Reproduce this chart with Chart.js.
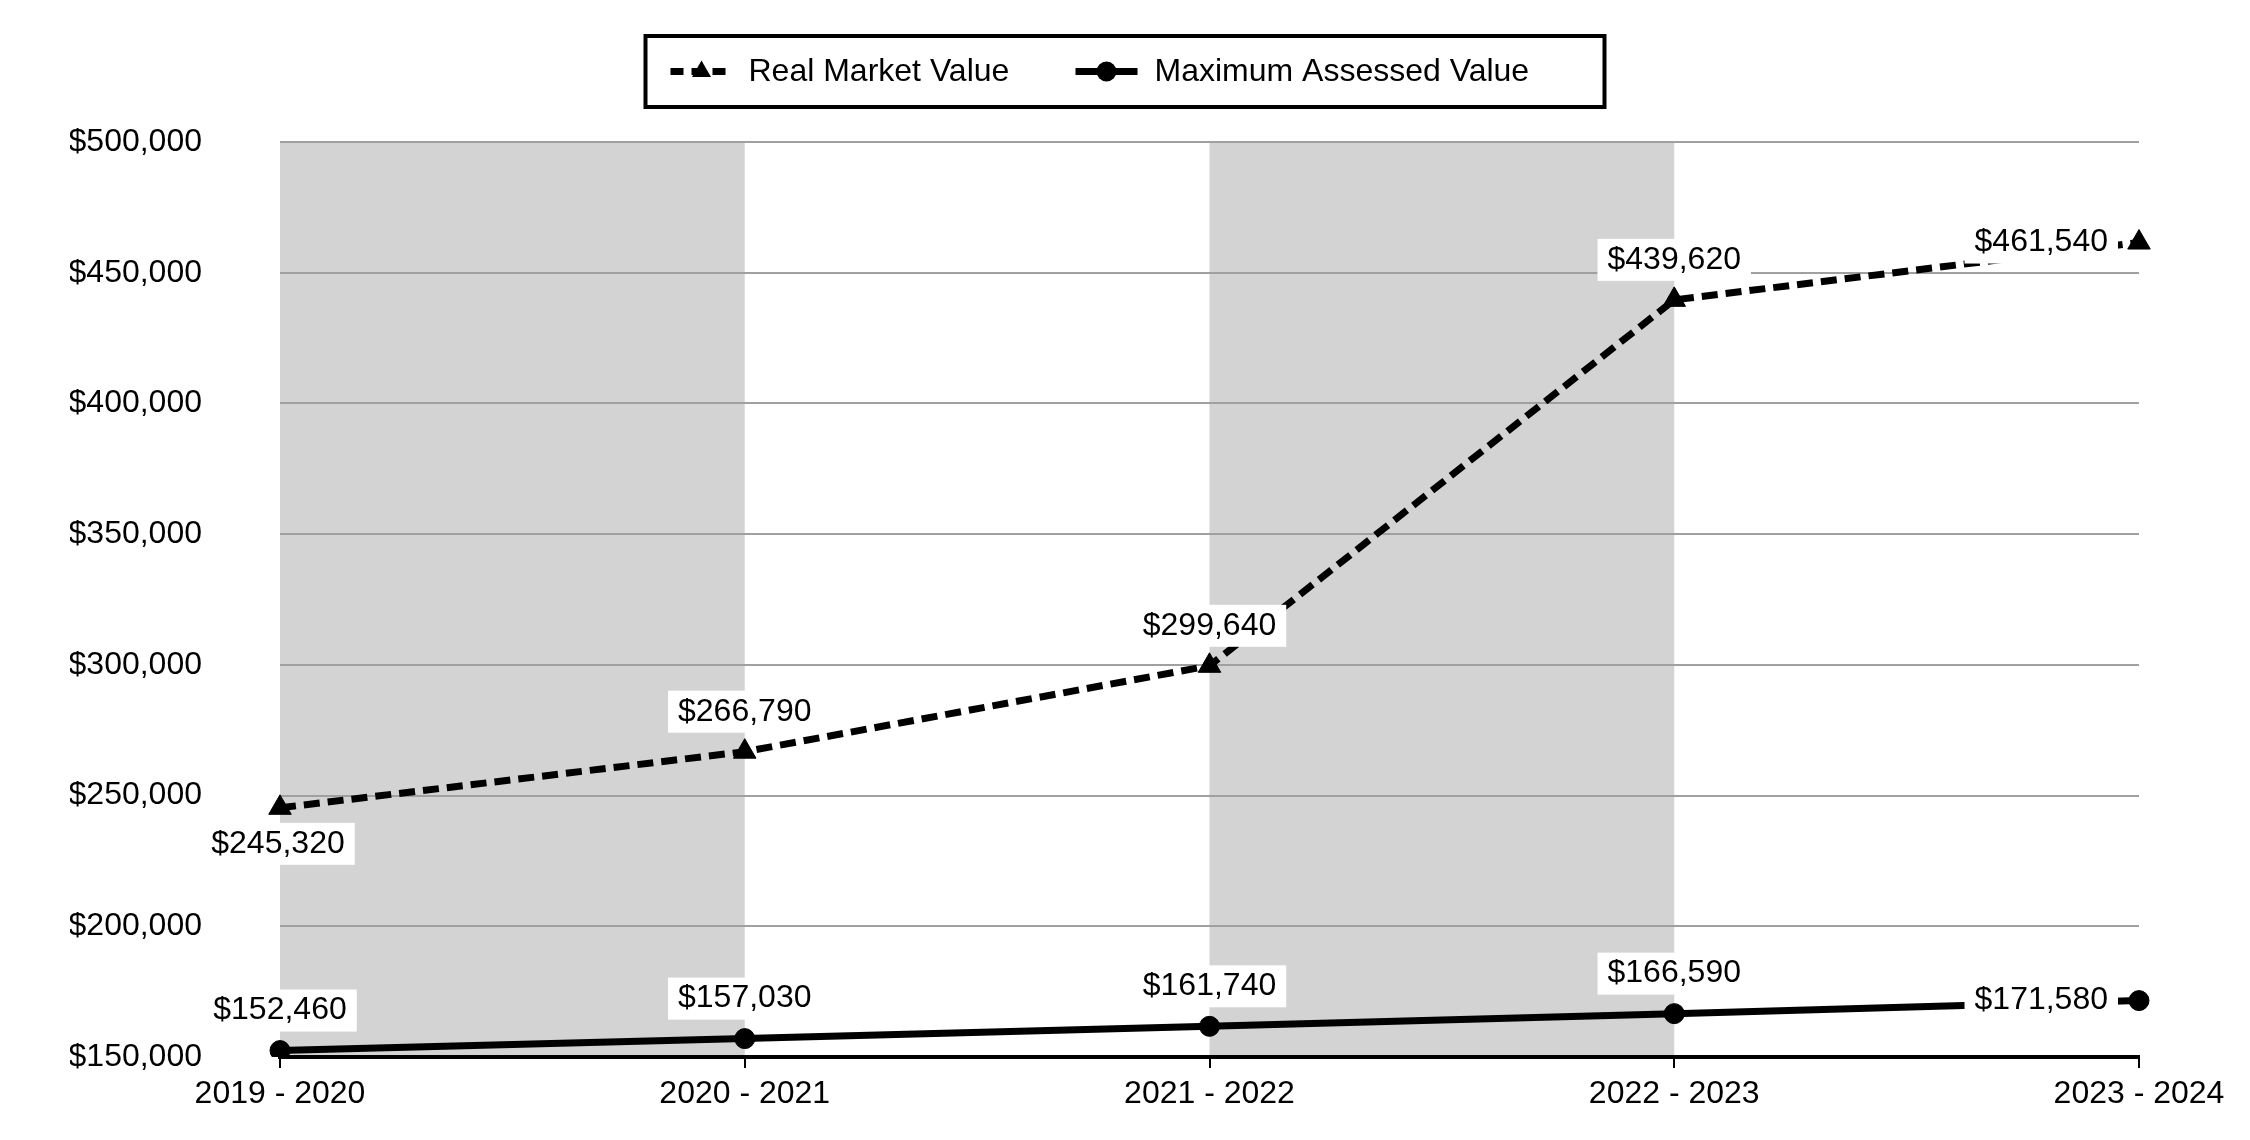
<!DOCTYPE html>
<html>
<head>
<meta charset="utf-8">
<script src="https://cdn.jsdelivr.net/npm/chart.js@4.4.1/dist/chart.umd.min.js"></script>
<style>
  html, body { margin: 0; padding: 0; background: #ffffff; }
  #wrap { width: 2250px; height: 1140px; position: relative; }
</style>
</head>
<body>
<div id="wrap"><canvas id="valueChart"></canvas></div>
<script>
// chart data
const seasons = ["2019 - 2020", "2020 - 2021", "2021 - 2022", "2022 - 2023", "2023 - 2024"];
const realMarketValue = [245320, 266790, 299640, 439620, 461540];
const maxAssessedValue = [152460, 157030, 161740, 166590, 171580];
const yMin = 150000;
const yMax = 500000;
const yStep = 50000;
// pairs of category indexes between which the background is shaded
const shadedBands = [[0, 1], [2, 3]];
const seriesNames = ["Real Market Value", "Maximum Assessed Value"];

// where each value label sits relative to its point
const rmvLabelSide = ["below", "above", "above", "above", "left"];
const mavLabelSide = ["above", "above", "above", "above", "left"];

const fontFamily = "'Liberation Sans', Arial, sans-serif";
const money = (v) => "$" + v.toLocaleString("en-US");

Chart.defaults.font.family = fontFamily;
Chart.defaults.color = "#000000";

// gray vertical bands behind the grid
const bandPlugin = {
  id: "bands",
  beforeDraw(chart) {
    const ctx = chart.ctx;
    const area = chart.chartArea;
    const x = chart.scales.x;
    ctx.save();
    ctx.fillStyle = "#d3d3d3";
    shadedBands.forEach(([a, b]) => {
      const x0 = x.getPixelForValue(a);
      const x1 = x.getPixelForValue(b);
      ctx.fillRect(x0, area.top, x1 - x0, area.bottom - area.top);
    });
    ctx.restore();
  },
};

// value labels on white boxes
const labelPlugin = {
  id: "valueLabels",
  afterDatasetsDraw(chart) {
    const ctx = chart.ctx;
    const sides = [rmvLabelSide, mavLabelSide];
    ctx.save();
    ctx.font = "32px " + fontFamily;
    ctx.textBaseline = "middle";
    chart.data.datasets.forEach((ds, di) => {
      const meta = chart.getDatasetMeta(di);
      meta.data.forEach((pt, i) => {
        const text = money(ds.data[i]);
        const w = ctx.measureText(text).width;
        let cx = pt.x;
        let cy = pt.y;
        const side = sides[di][i];
        if (side === "above") cy = pt.y - 40;
        else if (side === "below") { cy = pt.y + 36; cx = pt.x - 2; }
        else if (side === "left") cx = pt.x - 31 - w / 2;
        ctx.fillStyle = "#ffffff";
        ctx.fillRect(cx - w / 2 - 10, cy - 21, w + 20, 42);
        ctx.fillStyle = "#000000";
        ctx.textAlign = "center";
        ctx.fillText(text, cx, cy);
      });
    });
    ctx.restore();
  },
};

// boxed legend at the top
const legendPlugin = {
  id: "boxLegend",
  afterDraw(chart) {
    const ctx = chart.ctx;
    const boxW = 959, boxH = 71;
    const left = (chart.width - boxW) / 2;
    const top = 36;
    const mid = top + boxH / 2;
    ctx.save();
    ctx.fillStyle = "#ffffff";
    ctx.fillRect(left, top, boxW, boxH);
    ctx.lineWidth = 4;
    ctx.strokeStyle = "#000000";
    ctx.strokeRect(left, top, boxW, boxH);

    ctx.font = "32px " + fontFamily;
    ctx.textBaseline = "middle";
    ctx.textAlign = "left";
    ctx.fillStyle = "#000000";

    // item 1: dashed line with triangle
    let sx = left + 25;
    ctx.lineWidth = 7;
    ctx.setLineDash([13, 8]);
    ctx.beginPath();
    ctx.moveTo(sx, mid);
    ctx.lineTo(sx + 62, mid);
    ctx.stroke();
    ctx.setLineDash([]);
    const tx = sx + 31, r = 11;
    ctx.beginPath();
    ctx.moveTo(tx, mid - r);
    ctx.lineTo(tx + r * 0.866, mid + r * 0.5);
    ctx.lineTo(tx - r * 0.866, mid + r * 0.5);
    ctx.closePath();
    ctx.fill();
    ctx.fillText(seriesNames[0], sx + 78, mid + 1);

    // item 2: solid line with circle
    sx = left + 430;
    ctx.beginPath();
    ctx.moveTo(sx, mid);
    ctx.lineTo(sx + 62, mid);
    ctx.stroke();
    ctx.beginPath();
    ctx.arc(sx + 31, mid, 10, 0, Math.PI * 2);
    ctx.fill();
    ctx.fillText(seriesNames[1], sx + 79, mid + 1);
    ctx.restore();
  },
};

const ctx = document.getElementById("valueChart").getContext("2d");

new Chart(ctx, {
  type: "line",
  data: {
    labels: seasons,
    datasets: [
      {
        label: seriesNames[0],
        data: realMarketValue,
        borderColor: "#000000",
        backgroundColor: "#000000",
        borderWidth: 7,
        borderDash: [16, 8],
        pointStyle: "triangle",
        pointRadius: 13,
        pointBorderWidth: 1,
        tension: 0,
      },
      {
        label: seriesNames[1],
        data: maxAssessedValue,
        borderColor: "#000000",
        backgroundColor: "#000000",
        borderWidth: 7,
        pointStyle: "circle",
        pointRadius: 10,
        pointBorderWidth: 1,
        tension: 0,
      },
    ],
  },
  options: {
    responsive: true,
    maintainAspectRatio: false,
    devicePixelRatio: 1,
    animation: false,
    layout: {
      padding: { top: 142, right: 111, bottom: 26, left: 70 },
    },
    plugins: {
      legend: { display: false },
      tooltip: { enabled: false },
    },
    scales: {
      x: {
        offset: false,
        afterFit: (s) => { s.height = 57; },
        grid: {
          display: true,
          drawOnChartArea: false,
          drawTicks: true,
          tickLength: 11,
          color: "#000000",
          lineWidth: 2,
        },
        border: { display: true, color: "#000000", width: 4 },
        ticks: {
          font: { size: 32 },
          color: "#000000",
          padding: 7,
          maxRotation: 0,
          autoSkip: false,
        },
      },
      y: {
        min: yMin,
        max: yMax,
        // big tick padding would otherwise also push the plot up from the bottom
        afterFit: (s) => { s.width = 210; s.paddingTop = 0; s.paddingBottom = 0; },
        grid: {
          drawTicks: false,
          lineWidth: 2,
          color: (c) => (c.tick && c.tick.value === yMin ? "rgba(0,0,0,0)" : "#a0a0a0"),
        },
        border: { display: false },
        ticks: {
          stepSize: yStep,
          font: { size: 32 },
          color: "#000000",
          padding: 78,
          callback: (v) => money(v),
        },
      },
    },
  },
  plugins: [bandPlugin, labelPlugin, legendPlugin],
});
</script>
</body>
</html>
